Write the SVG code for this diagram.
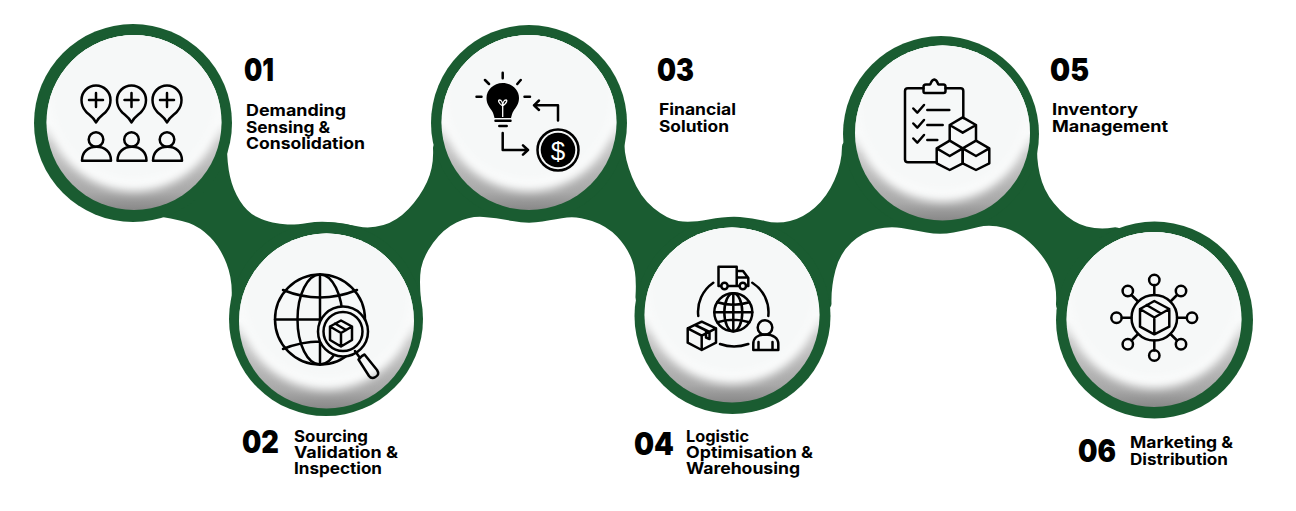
<svg xmlns="http://www.w3.org/2000/svg" width="1296" height="511" viewBox="0 0 1296 511">
<style>
.ln{fill:none;stroke:#000;stroke-width:2.5;stroke-linecap:round;stroke-linejoin:round}
.k{fill:#000}
.num{font-family:Inter,"Liberation Sans",sans-serif;font-weight:900;font-size:31px;fill:#000}
.lbl{font-family:Inter,"Liberation Sans",sans-serif;font-weight:700;font-size:16px;fill:#000}
</style>
<defs>
<clipPath id="discClip"><circle r="87.5"/></clipPath>
<linearGradient id="rim" x1="0" y1="0" x2="0" y2="1"><stop offset="0.5" stop-color="#f6f8f8"/><stop offset="0.62" stop-color="#c8c8c8"/><stop offset="0.9" stop-color="#a8a8a8"/><stop offset="1" stop-color="#888888"/></linearGradient>
<filter id="soft" x="-20%" y="-20%" width="140%" height="140%"><feGaussianBlur stdDeviation="5"/></filter>
<g id="disc"><circle r="87.5" fill="url(#rim)"/><g clip-path="url(#discClip)"><circle cy="-19" r="88" fill="#fbfcfc" filter="url(#soft)"/><circle cy="-26" r="84" fill="#f6f8f8" filter="url(#soft)"/></g></g>
<g id="globeGrid" class="ln"><circle r="19"/><ellipse rx="9" ry="19"/><path d="M0-19V19M-19 0H19M-16-10Q0-5 16-10M-16 10Q0 5 16 10"/></g>
</defs>
<g id="connectors">
<path fill="#1a5c31" d="M227 146Q227 163 230 176.500Q233 190 240 201Q247 212 256 216.500Q265 221 272.500 222.500Q280 224 287.500 224.500Q295 225 307.500 223Q320 221 333.500 222.500Q347 224 358.500 226.500Q370 229 383.500 225Q397 221 408.500 209Q420 197 427 182Q434 167 433 148.500Q432 130 528.500 130Q625 130 624.500 143.500Q624 157 632 177Q640 197 653.500 208Q667 219 678.500 221Q690 223 708.500 219.500Q727 216 740 217Q753 218 765 221Q777 224 790 221Q803 218 815 207.500Q827 197 834.500 180Q842 163 842 146.500Q842 130 939.500 130Q1037 130 1037 148.500Q1037 167 1042 182Q1047 197 1060 210Q1073 223 1086.500 226.500Q1100 230 1113.500 227.500Q1127 225 1140.500 262.500Q1154 300 1104.500 310Q1055 320 1056 303.500Q1057 287 1052 273.500Q1047 260 1033.500 246Q1020 232 1005 228Q990 224 978.500 227Q967 230 953.500 232.500Q940 235 926.500 232.500Q913 230 901.500 228Q890 226 876.500 229Q863 232 851.500 242.500Q840 253 835.500 270Q831 287 831.500 303.500Q832 320 733 320Q634 320 635.500 296.500Q637 273 632 260Q627 247 617 236.500Q607 226 592 221Q577 216 567 217.500Q557 219 542.500 221.500Q528 224 512.500 221Q497 218 483.500 217Q470 216 456.500 222.500Q443 229 433 243Q423 257 421 268.500Q419 280 421 300Q423 320 326.500 320Q230 320 231.500 300Q233 280 226.500 263.500Q220 247 210 237Q200 227 189 223Q172 218 150 215L150 155Q227 130 227 146Z"/>
<circle cx="133" cy="123" r="99" fill="#1a5c31"/>
<circle cx="326" cy="319" r="97" fill="#1a5c31"/>
<circle cx="529" cy="123" r="98" fill="#1a5c31"/>
<circle cx="732.500" cy="316" r="98" fill="#1a5c31"/>
<circle cx="941" cy="134" r="98" fill="#1a5c31"/>
<circle cx="1154.500" cy="320" r="98.500" fill="#1a5c31"/>
</g>
<g id="node1">
<use href="#disc" x="134" y="122.500"/>
<g class="ln">
<path d="M96 122.500C93 116 88 114.500 85.500 111C82 107 81.500 103 81.500 100A14.500 14.500 0 0 1 110.500 100C110.500 103 110 107 106.500 111C104 114.500 99 116 96 122.500ZM96 93V107M89 100H103"/>
<path d="M131.500 122.500C128.500 116 123.500 114.500 121 111C117.500 107 117 103 117 100A14.500 14.500 0 0 1 146 100C146 103 145.500 107 142 111C139.500 114.500 134.500 116 131.500 122.500ZM131.500 93V107M124.500 100H138.500"/>
<path d="M167 122.500C164 116 159 114.500 156.500 111C153 107 152.500 103 152.500 100A14.500 14.500 0 0 1 181.500 100C181.500 103 181 107 177.500 111C175 114.500 170 116 167 122.500ZM167 93V107M160 100H174"/>
<circle cx="96" cy="139.500" r="7.300"/><path d="M82 160.700C82 152 88 146.800 96.500 146.800C105 146.800 111 152 111 160.700Z"/>
<circle cx="131.500" cy="139.500" r="7.300"/><path d="M117.500 160.700C117.500 152 123.500 146.800 132 146.800C140.500 146.800 146.500 152 146.500 160.700Z"/>
<circle cx="167" cy="139.500" r="7.300"/><path d="M153 160.700C153 152 159 146.800 167.500 146.800C176 146.800 182 152 182 160.700Z"/>
</g>
<text class="num" x="244" y="80.500" textLength="30" lengthAdjust="spacingAndGlyphs">01</text>
<text class="lbl"><tspan x="246" y="116" textLength="100" lengthAdjust="spacingAndGlyphs">Demanding</tspan><tspan x="246" y="132.500" textLength="84" lengthAdjust="spacingAndGlyphs">Sensing &amp;</tspan><tspan x="246" y="149" textLength="119" lengthAdjust="spacingAndGlyphs">Consolidation</tspan></text>
</g>
<g id="node2">
<use href="#disc" x="326.500" y="321"/>
<g class="ln">
<circle cx="320" cy="319.500" r="45"/>
<ellipse cx="320" cy="319.500" rx="22.500" ry="45"/>
<path d="M320 274.500V364.500M275 319.500H365M283 290Q320 305 357 290M283 349Q320 334 357 349"/>
<circle cx="343" cy="331.500" r="25" fill="#f6f8f8"/>
<circle cx="343" cy="331.500" r="19.500"/>
<path d="M341 320.500L352 326.500V340L341 346.500L330 340V326.500ZM330 326.500L341 333L352 326.500M341 333V346.500M335 323.500L346 330"/>
<path d="M355 351L360 358"/>
<path d="M358.500 359.500C360 357.500 362 355.500 364.500 354.500L377 370C379 373 378.500 375.500 375.500 377C373 378.500 370.500 378 369 376Z"/>
</g>
<text class="num" x="242" y="453" textLength="37" lengthAdjust="spacingAndGlyphs">02</text>
<text class="lbl"><tspan x="294" y="441.500" textLength="74" lengthAdjust="spacingAndGlyphs">Sourcing</tspan><tspan x="294" y="458" textLength="104" lengthAdjust="spacingAndGlyphs">Validation &amp;</tspan><tspan x="294" y="474" textLength="88" lengthAdjust="spacingAndGlyphs">Inspection</tspan></text>
</g>
<g id="node3">
<use href="#disc" x="529" y="122.500"/>
<path class="k" d="M502.700 83C512 83 519 90 519 98C519 104 516 107 513.500 111C512 113.500 511.500 116 511 118H494.500C494 116 493.500 113.500 492 111C489.500 107 486.500 104 486.500 98C486.500 90 493.500 83 502.700 83Z"/>
<path d="M502.700 117V106M502.700 106C498 103 498 100 499.500 100C501.500 100 502.700 103 502.700 106C502.700 103 504 100 506 100C507.500 100 507 103 502.700 106" fill="none" stroke="#fff" stroke-width="1.300"/>
<g class="ln">
<path d="M495.500 120.800H510.500M499.300 126H506.700M502.700 72.700V78.300M485 80L489 84M520.700 80L517.300 84M476.500 96.700H481.500M524.500 96.700H530"/>
<path d="M558 120.500V105.300H534M539 100.500L534 105.300L539 110"/>
<path d="M502.700 133V150H528M523 145.300L528 150L523 154.700"/>
<circle cx="558" cy="150" r="20.500"/>
</g>
<circle cx="558" cy="150" r="17.300" class="k"/>
<text x="558" y="159.500" text-anchor="middle" font-family="'Liberation Sans',sans-serif" font-size="26" fill="#fff">$</text>
<text class="num" x="657" y="80.500" textLength="37" lengthAdjust="spacingAndGlyphs">03</text>
<text class="lbl"><tspan x="659" y="115" textLength="77" lengthAdjust="spacingAndGlyphs">Financial</tspan><tspan x="659" y="132" textLength="70" lengthAdjust="spacingAndGlyphs">Solution</tspan></text>
</g>
<g id="node4">
<use href="#disc" x="732" y="315"/>
<g class="ln">
<path d="M721 286H718.500V266.700H736.700V286H729M736.700 271H743L748.300 278V286H747M736.700 286H738.500M737 277.500H748"/>
<circle cx="724.500" cy="286" r="3.200"/><circle cx="742.800" cy="286" r="3.200"/>
<path d="M713.300 282.700A35 35 0 0 0 698.300 316M752.300 282.700A35 35 0 0 1 768.300 316M720 344Q734 349 748.300 344"/>
<path d="M701.700 321.700L716 328.300V342.700L701.700 350L687.700 342.700V328.300ZM687.700 328.300L701.700 335.700L716 328.300M701.700 335.700V350M695 325L709.500 332V339L706 337.500V330.500"/>
<circle cx="765" cy="327.500" r="7.300"/>
<path d="M753.300 350V344C753.300 338 758 334.500 765.500 334.500C773 334.500 778.300 338 778.300 344V350ZM758.500 342V350M772.500 342V350"/>
</g>
<use href="#globeGrid" x="733.300" y="312.300"/>
<text class="num" x="634" y="455" textLength="40" lengthAdjust="spacingAndGlyphs">04</text>
<text class="lbl"><tspan x="686" y="441.500" textLength="63" lengthAdjust="spacingAndGlyphs">Logistic</tspan><tspan x="686" y="458" textLength="127" lengthAdjust="spacingAndGlyphs">Optimisation &amp;</tspan><tspan x="686" y="474" textLength="114" lengthAdjust="spacingAndGlyphs">Warehousing</tspan></text>
</g>
<g id="node5">
<use href="#disc" x="942.500" y="133"/>
<g class="ln">
<path d="M963.300 118V91C963.300 89 962 88.300 960.500 88.300H945.500M923.500 88.300H908C906 88.300 905 89.500 905 91V159.500C905 161.500 906 162.300 908 162.300H936.700"/>
<path d="M925 93C923.500 93 923.500 92 923.500 91V87C923.500 85.500 924.500 84.500 926 84.500H930C931 84 931 80 934.300 79.500C937.500 80 937.500 84 938.500 84.500H943.500C945 84.500 945.500 85.500 945.500 87V91C945.500 92 945 93 943.500 93Z"/>
<path d="M913.300 108.500L917.300 112.700L924 105M927.300 110H949.300M913.300 123.500L917.300 127.700L924 120M927.300 125H942.700M913.300 138.500L917.300 142.700L924 135M927.300 140H937.300"/>
<path d="M962.700 117.300L976 125V140.700M949.700 140.700V125L962.700 117.300M949.700 125L962.700 132.700L976 125"/>
<path d="M949.700 140.700L962.700 148.300V163.300L949.700 170L936.700 163.300V148.300ZM936.700 148.300L949.700 156L962.700 148.300"/>
<path d="M976 140.700L989.300 148.300V163.300L976 170L962.700 163.300V148.300ZM962.700 148.300L976 156L989.300 148.300"/>
</g>
<text class="num" x="1050" y="80.500" textLength="39" lengthAdjust="spacingAndGlyphs">05</text>
<text class="lbl"><tspan x="1052" y="115" textLength="86" lengthAdjust="spacingAndGlyphs">Inventory</tspan><tspan x="1052" y="132" textLength="116" lengthAdjust="spacingAndGlyphs">Management</tspan></text>
</g>
<g id="node6">
<use href="#disc" x="1154" y="319.500"/>
<g class="ln">
<circle cx="1154.300" cy="317.700" r="22.800"/>
<path d="M1154.300 301L1169.300 309V326.700L1154.300 334.300L1140 326.700V309ZM1140 309L1154.300 317.500L1169.300 309M1154.300 317.500V334.300M1146.500 305L1161 313.500"/>
<path d="M1154.300 285V295M1154.300 340.500V350.500M1121.700 317.700H1131.500M1177 317.700H1186.800M1131.500 295L1138 301.500M1177 295L1170.500 301.500M1131.500 340.500L1138 334M1177 340.500L1170.500 334"/>
<circle cx="1154.300" cy="280" r="5.200"/><circle cx="1154.300" cy="355.500" r="5.200"/>
<circle cx="1116.500" cy="317.700" r="5.200"/><circle cx="1192" cy="317.700" r="5.200"/>
<circle cx="1127.800" cy="291" r="5.200"/><circle cx="1181" cy="291" r="5.200"/>
<circle cx="1127.800" cy="344.300" r="5.200"/><circle cx="1181" cy="344.300" r="5.200"/>
</g>
<text class="num" x="1078" y="462" textLength="38" lengthAdjust="spacingAndGlyphs">06</text>
<text class="lbl"><tspan x="1130" y="448" textLength="103" lengthAdjust="spacingAndGlyphs">Marketing &amp;</tspan><tspan x="1130" y="465" textLength="98" lengthAdjust="spacingAndGlyphs">Distribution</tspan></text>
</g>
</svg>
